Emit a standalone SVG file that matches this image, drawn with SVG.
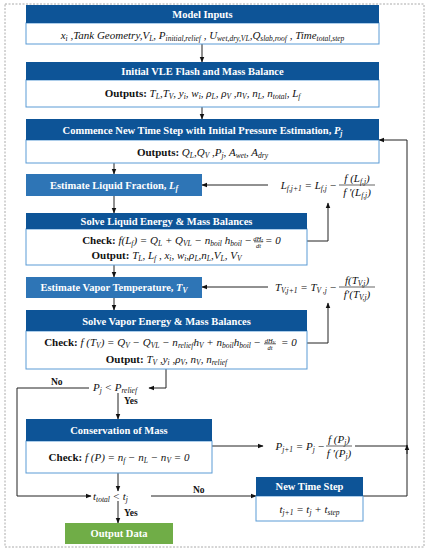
<svg xmlns="http://www.w3.org/2000/svg" width="428" height="550" viewBox="0 0 428 550">
<defs>
<marker id="ah" viewBox="0 0 10 10" refX="9" refY="5" markerWidth="6" markerHeight="6" orient="auto" markerUnits="userSpaceOnUse">
<path d="M0,1 L10,5 L0,9 z" fill="#111"/>
</marker>
</defs>
<style>
.hd{fill:#0d5497}
.lt{fill:#2e75b6}
.bd{fill:#fff;stroke:#5b9bd5;stroke-width:1}
.gr{fill:#70ad47}
.ht{font-family:"Liberation Serif",serif;font-weight:bold;font-size:10.5px;fill:#fff;text-anchor:middle}
.m{font-family:"Liberation Serif",serif;font-style:italic;font-size:11px;fill:#111}
.mc{font-family:"Liberation Serif",serif;font-style:italic;font-size:11px;fill:#111;text-anchor:middle}
.me{font-family:"Liberation Serif",serif;font-style:italic;font-size:11px;fill:#111;text-anchor:end}
.sm{font-family:"Liberation Serif",serif;font-style:italic;font-size:6.5px;fill:#111;text-anchor:middle}
.b{font-style:normal;font-weight:bold}
.s{font-size:7.5px}
.lbl{font-family:"Liberation Serif",serif;font-weight:bold;font-size:9.5px;fill:#111}
.c{fill:none;stroke:#222;stroke-width:1}
.fl{stroke:#222;stroke-width:0.7}
</style>
<rect x="5" y="4" width="419" height="543" fill="none" stroke="#aaa" stroke-width="1" stroke-dasharray="2,1.5"/>

<g id="connectors">
<line class="c" x1="202" y1="44" x2="202" y2="62" marker-end="url(#ah)"/>
<line class="c" x1="202" y1="107" x2="202" y2="119" marker-end="url(#ah)"/>
<line class="c" x1="114" y1="163" x2="114" y2="174" marker-end="url(#ah)"/>
<line class="c" x1="114" y1="196" x2="114" y2="213" marker-end="url(#ah)"/>
<line class="c" x1="114" y1="265" x2="114" y2="277" marker-end="url(#ah)"/>
<line class="c" x1="114" y1="298" x2="114" y2="310" marker-end="url(#ah)"/>
<line class="c" x1="268" y1="185" x2="202" y2="185" marker-end="url(#ah)"/>
<line class="c" x1="268" y1="287" x2="202" y2="287" marker-end="url(#ah)"/>
<path class="c" d="M307,241 H328 V203" marker-end="url(#ah)"/>
<path class="c" d="M307,343 H328 V303" marker-end="url(#ah)"/>
<path class="c" d="M166,369 V388 H149" marker-end="url(#ah)"/>
<path class="c" d="M89,388 H17 V496 H91" marker-end="url(#ah)"/>
<line class="c" x1="118" y1="393" x2="118" y2="419" marker-end="url(#ah)"/>
<line class="c" x1="212" y1="446" x2="263" y2="446" marker-end="url(#ah)"/>
<line class="c" x1="355" y1="446" x2="407" y2="446"/>
<line class="c" x1="118" y1="473" x2="118" y2="491" marker-end="url(#ah)"/>
<line class="c" x1="151" y1="496" x2="256" y2="496" marker-end="url(#ah)"/>
<path class="c" d="M363,496 H407 V140 H379" marker-end="url(#ah)"/>
<line class="c" x1="407" y1="454" x2="407" y2="445" marker-end="url(#ah)"/>
<line class="c" x1="118" y1="501" x2="118" y2="523" marker-end="url(#ah)"/>
<text class="lbl" x="51" y="385">No</text>
<text class="lbl" x="124" y="404">Yes</text>
<text class="lbl" x="193" y="493">No</text>
<text class="lbl" x="124" y="516">Yes</text>
</g>

<g id="model-inputs">
<rect class="bd" x="26" y="23" width="353" height="21"/>
<rect class="hd" x="26" y="5" width="353" height="18"/>
<text class="ht" x="202.5" y="17.5">Model Inputs</text>
<text class="mc" x="202.5" y="38.5">x<tspan class="s" dy="2">i</tspan><tspan dy="-2"> ,Tank Geometry,V</tspan><tspan class="s" dy="2">L</tspan><tspan dy="-2">, P</tspan><tspan class="s" dy="2">initial,relief</tspan><tspan dy="-2"> , U</tspan><tspan class="s" dy="2">wet,dry,VL</tspan><tspan dy="-2">,Q</tspan><tspan class="s" dy="2">slab,roof</tspan><tspan dy="-2"> , Time</tspan><tspan class="s" dy="2">total,step</tspan></text>
</g>

<g id="initial-vle">
<rect class="bd" x="26" y="80" width="353" height="27"/>
<rect class="hd" x="26" y="62" width="353" height="18"/>
<text class="ht" x="202.5" y="75">Initial VLE Flash and Mass Balance</text>
<text class="mc" x="202.5" y="97"><tspan class="b">Outputs: </tspan>T<tspan class="s" dy="2">L</tspan><tspan dy="-2">,T</tspan><tspan class="s" dy="2">V</tspan><tspan dy="-2">, y</tspan><tspan class="s" dy="2">i</tspan><tspan dy="-2">, w</tspan><tspan class="s" dy="2">i</tspan><tspan dy="-2">, ρ</tspan><tspan class="s" dy="2">L</tspan><tspan dy="-2">, ρ</tspan><tspan class="s" dy="2">V</tspan><tspan dy="-2"> ,n</tspan><tspan class="s" dy="2">V</tspan><tspan dy="-2">, n</tspan><tspan class="s" dy="2">L</tspan><tspan dy="-2">, n</tspan><tspan class="s" dy="2">total</tspan><tspan dy="-2">, L</tspan><tspan class="s" dy="2">f</tspan></text>
</g>

<g id="commence">
<rect class="bd" x="26" y="140" width="353" height="23"/>
<rect class="hd" x="26" y="119" width="353" height="21"/>
<text class="ht" x="202.5" y="133.5">Commence New Time Step with Initial Pressure Estimation, <tspan font-style="italic">P</tspan><tspan class="s" font-style="italic" dy="2">j</tspan></text>
<text class="mc" x="202.5" y="155.5"><tspan class="b">Outputs: </tspan>Q<tspan class="s" dy="2">L</tspan><tspan dy="-2">,Q</tspan><tspan class="s" dy="2">V</tspan><tspan dy="-2"> ,P</tspan><tspan class="s" dy="2">j</tspan><tspan dy="-2">, A</tspan><tspan class="s" dy="2">wet</tspan><tspan dy="-2">, A</tspan><tspan class="s" dy="2">dry</tspan></text>
</g>

<g id="estimate-liquid">
<rect class="lt" x="26" y="174" width="176" height="22"/>
<text class="ht" x="114" y="188.5">Estimate Liquid Fraction, <tspan font-style="italic">L</tspan><tspan class="s" font-style="italic" dy="2">f</tspan></text>
</g>

<g id="liquid-update">
<text class="me" x="337" y="189">L<tspan class="s" dy="2">f,j+1</tspan><tspan dy="-2"> = L</tspan><tspan class="s" dy="2">f,j</tspan><tspan dy="-2"> −</tspan></text>
<text class="mc" x="357" y="181.5">f (L<tspan class="s" dy="2">f,j</tspan><tspan dy="-2">)</tspan></text>
<line class="fl" x1="339" y1="185" x2="375" y2="185"/>
<text class="mc" x="357" y="196">f ′(L<tspan class="s" dy="2">f,j</tspan><tspan dy="-2">)</tspan></text>
</g>

<g id="solve-liquid">
<rect class="bd" x="26" y="229" width="281" height="36"/>
<rect class="hd" x="26" y="213" width="281" height="16"/>
<text class="ht" x="166.5" y="224.5">Solve Liquid Energy &amp; Mass Balances</text>
<text class="me" x="252" y="244"><tspan class="b">Check: </tspan>f(L<tspan class="s" dy="2">f</tspan><tspan dy="-2">) = Q</tspan><tspan class="s" dy="2">L</tspan><tspan dy="-2"> + Q</tspan><tspan class="s" dy="2">VL</tspan><tspan dy="-2"> − n</tspan><tspan class="s" dy="2">boil</tspan><tspan dy="-2"> h</tspan><tspan class="s" dy="2">boil</tspan><tspan dy="-2"> −</tspan></text>
<text class="sm" x="258.5" y="240.5">dH<tspan font-size="4.5" dy="1">L</tspan></text>
<line class="fl" x1="254" y1="241.8" x2="263" y2="241.8" stroke-width="0.5"/>
<text class="sm" x="258.5" y="247.5">dt</text>
<text class="m" x="265" y="244">= 0</text>
<text class="mc" x="166.5" y="258.5"><tspan class="b">Output: </tspan>T<tspan class="s" dy="2">L</tspan><tspan dy="-2">, L</tspan><tspan class="s" dy="2">f</tspan><tspan dy="-2"> , x</tspan><tspan class="s" dy="2">i</tspan><tspan dy="-2">, w</tspan><tspan class="s" dy="2">i</tspan><tspan dy="-2">,ρ</tspan><tspan class="s" dy="2">L</tspan><tspan dy="-2">,n</tspan><tspan class="s" dy="2">L</tspan><tspan dy="-2">,V</tspan><tspan class="s" dy="2">L</tspan><tspan dy="-2">, V</tspan><tspan class="s" dy="2">V</tspan></text>
</g>

<g id="estimate-vapor">
<rect class="lt" x="26" y="277" width="176" height="21"/>
<text class="ht" x="114" y="291">Estimate Vapor Temperature, <tspan font-style="italic">T</tspan><tspan class="s" font-style="italic" dy="2">V</tspan></text>
</g>

<g id="vapor-update">
<text class="me" x="337" y="291">T<tspan class="s" dy="2">V,j+1</tspan><tspan dy="-2"> = T</tspan><tspan class="s" dy="2">V ,j</tspan><tspan dy="-2"> −</tspan></text>
<text class="mc" x="357" y="283.5">f(T<tspan class="s" dy="2">V,j</tspan><tspan dy="-2">)</tspan></text>
<line class="fl" x1="339" y1="287" x2="375" y2="287"/>
<text class="mc" x="357" y="298">f′(T<tspan class="s" dy="2">V,j</tspan><tspan dy="-2">)</tspan></text>
</g>

<g id="solve-vapor">
<rect class="bd" x="26" y="331" width="281" height="38"/>
<rect class="hd" x="26" y="310" width="281" height="21"/>
<text class="ht" x="166.5" y="324.5">Solve Vapor Energy &amp; Mass Balances</text>
<text class="me" x="261" y="346"><tspan class="b">Check: </tspan>f (T<tspan class="s" dy="2">V</tspan><tspan dy="-2">) = Q</tspan><tspan class="s" dy="2">V</tspan><tspan dy="-2"> − Q</tspan><tspan class="s" dy="2">VL</tspan><tspan dy="-2"> − n</tspan><tspan class="s" dy="2">relief</tspan><tspan dy="-2">h</tspan><tspan class="s" dy="2">V</tspan><tspan dy="-2"> + n</tspan><tspan class="s" dy="2">boil</tspan><tspan dy="-2">h</tspan><tspan class="s" dy="2">boil</tspan><tspan dy="-2"> −</tspan></text>
<text class="sm" x="270" y="342.5">dH<tspan font-size="4.5" dy="1">V</tspan></text>
<line class="fl" x1="264" y1="343.8" x2="276" y2="343.8" stroke-width="0.5"/>
<text class="sm" x="270" y="349.5">dt</text>
<text class="m" x="281" y="346">= 0</text>
<text class="mc" x="166.5" y="363"><tspan class="b">Output: </tspan>T<tspan class="s" dy="2">V</tspan><tspan dy="-2"> ,y</tspan><tspan class="s" dy="2">i</tspan><tspan dy="-2"> ,ρ</tspan><tspan class="s" dy="2">V</tspan><tspan dy="-2">, n</tspan><tspan class="s" dy="2">V</tspan><tspan dy="-2">, n</tspan><tspan class="s" dy="2">relief</tspan></text>
</g>

<g id="relief-check">
<text class="m" x="93" y="391">P<tspan class="s" dy="2">j</tspan><tspan dy="-2"> &lt; P</tspan><tspan class="s" dy="2">relief</tspan></text>
</g>

<g id="conservation">
<rect class="bd" x="26" y="441" width="186" height="32"/>
<rect class="hd" x="26" y="419" width="186" height="22"/>
<text class="ht" x="119" y="434">Conservation of Mass</text>
<text class="mc" x="119" y="461"><tspan class="b">Check: </tspan>f (P) = n<tspan class="s" dy="2">f</tspan><tspan dy="-2"> − n</tspan><tspan class="s" dy="2">L</tspan><tspan dy="-2"> − n</tspan><tspan class="s" dy="2">V</tspan><tspan dy="-2"> = 0</tspan></text>
</g>

<g id="pressure-update">
<text class="me" x="325" y="450">P<tspan class="s" dy="2">j+1</tspan><tspan dy="-2"> = P</tspan><tspan class="s" dy="2">j</tspan><tspan dy="-2"> −</tspan></text>
<text class="mc" x="339" y="442.5">f (P<tspan class="s" dy="2">j</tspan><tspan dy="-2">)</tspan></text>
<line class="fl" x1="326" y1="446" x2="352" y2="446"/>
<text class="mc" x="339" y="457">f ′(P<tspan class="s" dy="2">j</tspan><tspan dy="-2">)</tspan></text>
</g>

<g id="time-check">
<text class="m" x="93" y="499.5">t<tspan class="s" dy="2">total</tspan><tspan dy="-2"> &lt; t</tspan><tspan class="s" dy="2">j</tspan></text>
</g>

<g id="new-time-step">
<rect class="bd" x="256" y="496" width="107" height="25"/>
<rect class="hd" x="256" y="477" width="107" height="19"/>
<text class="ht" x="309.5" y="490">New Time Step</text>
<text class="mc" x="309.5" y="512.5">t<tspan class="s" dy="2">j+1</tspan><tspan dy="-2"> = t</tspan><tspan class="s" dy="2">j</tspan><tspan dy="-2"> + t</tspan><tspan class="s" dy="2">step</tspan></text>
</g>

<g id="output-data">
<rect class="gr" x="65" y="523" width="108" height="21"/>
<text class="ht" x="119" y="537">Output Data</text>
</g>
</svg>
